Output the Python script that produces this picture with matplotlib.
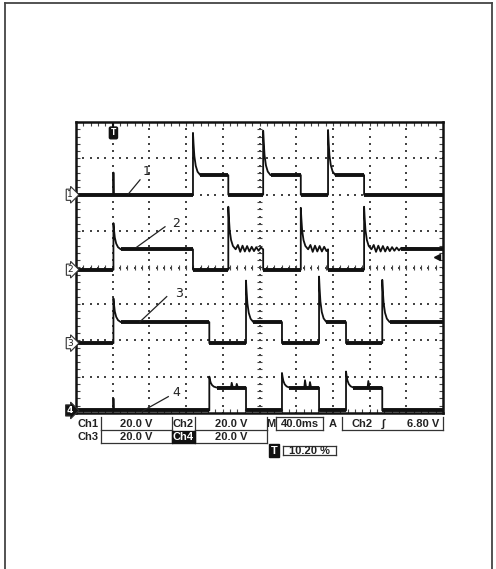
import numpy as np
import matplotlib.pyplot as plt
from matplotlib.lines import Line2D
from matplotlib.collections import LineCollection
from matplotlib.transforms import blended_transform_factory

W, H = 496, 569

# --- scope settings -------------------------------------------------------
ms_per_div = 40.0
n_xdiv, n_ydiv = 10, 8
t_end = ms_per_div * n_xdiv
trigger_pct = 10.20
t_trig = trigger_pct / 100.0 * t_end
volts_per_div = [20.0, 20.0, 20.0, 20.0]
trig_source = "Ch2"
trig_level_v = 6.80

# ground / high level of each channel, in divisions
ch_ground = [2.00, -0.06, -2.08, -3.93]
ch_high = [2.54, 0.50, -1.50, -3.30]

# edge times (ms), first edge of every list is a rising one
ch1_edges = [127.5, 166.0, 204.0, 245.0, 274.7, 314.0]
ch2_edges = [t_trig, 127.5, 166.0, 204.0, 245.0, 274.7, 314.0]
ch3_edges = [t_trig, 145.3, 185.3, 224.5, 264.9, 294.3, 333.8]
ch4_edges = [145.3, 185.3, 224.5, 264.9, 294.3, 333.8]

# overshoot peak on each rising edge (div)
ch1_peaks = [3.70, 3.76, 3.78]
ch2_peaks = [1.22, 1.67, 1.64, 1.67]
ch3_peaks = [-0.85, -0.36, -0.25, -0.34]
ch4_peaks = [-3.00, -2.90, -2.86]

# overshoot decay after an edge: time after edge (ms) / remaining fraction
decay_dt = [0.0, 0.6, 1.5, 3.0, 5.0, 8.0]
decay_frac = [1.0, 0.75, 0.45, 0.22, 0.08, 0.0]

# ringing on ch2 after its later rising edges (div offsets, 2.5 ms apart)
ch2_ring_on = [False, True, True, True]
ch2_ring = [0.12, -0.07, 0.10, -0.06, 0.09, -0.06, 0.07, -0.05, 0.06, -0.04,
            0.05, -0.03, 0.04]
ring_step = 2.5

# short glitches at the trigger instant (ms, div)
ch1_glitch = [(t_trig, 2.61)]
ch4_glitch = [(t_trig, -3.60)]

# bumps on the ch4 high level (ms, div)
ch4_bumps = [(169.7, -3.17), (175.2, -3.20), (249.6, -3.10), (255.0, -3.15),
             (318.6, -3.12)]


def build_trace(low, high, edges, peaks, ring_on=None, ring=None):
    xs, ys = [0.0], [low]
    plateaus = []
    seg_start, level, k = 0.0, low, 0
    for i, t in enumerate(edges):
        nxt = edges[i + 1] if i + 1 < len(edges) else t_end
        plateaus.append((seg_start, t, level))
        xs.append(t)
        ys.append(level)
        if i % 2 == 0:
            pk = peaks[k]
            for dt, f in zip(decay_dt, decay_frac):
                xs.append(t + dt)
                ys.append(high + f * (pk - high))
            seg_start = t + decay_dt[-1]
            if ring_on is not None and ring_on[k]:
                for j, r in enumerate(ring):
                    tr = seg_start + ring_step * (j + 1)
                    if tr > nxt - 1.0:
                        break
                    xs.append(tr)
                    ys.append(high + r)
                seg_start = min(seg_start + ring_step * len(ring), nxt)
            level = high
            k += 1
        else:
            xs.append(t)
            ys.append(low)
            seg_start, level = t, low
    xs.append(t_end)
    ys.append(level)
    plateaus.append((seg_start, t_end, level))
    return xs, ys, plateaus


def add_points(xs, ys, extra, base, w0=0.8, w1=1.2):
    for t, v in extra:
        xs += [t - w0, t, t + w1]
        ys += [base, v, base]
    order = np.argsort(np.array(xs), kind="stable")
    return list(np.array(xs)[order]), list(np.array(ys)[order])


traces = [
    build_trace(ch_ground[0], ch_high[0], ch1_edges, ch1_peaks),
    build_trace(ch_ground[1], ch_high[1], ch2_edges, ch2_peaks, ch2_ring_on, ch2_ring),
    build_trace(ch_ground[2], ch_high[2], ch3_edges, ch3_peaks),
    build_trace(ch_ground[3], ch_high[3], ch4_edges, ch4_peaks),
]

fig = plt.figure(figsize=(W / 100, H / 100), dpi=100)
ax = fig.add_axes([76 / W, 1 - 413 / H, 367 / W, 291 / H])
ax.set_xlim(0, t_end)
ax.set_ylim(-n_ydiv / 2, n_ydiv / 2)
ax.set_xticks([])
ax.set_yticks([])
for s in ax.spines.values():
    s.set_linewidth(1.8)
    s.set_color("#111111")

# graticule: dotted major lines, ticked centre lines, ticked border
minor_x = np.arange(0, t_end + 0.1, ms_per_div / 5)
minor_y = np.arange(-4, 4.01, 0.2)
for xv in np.arange(ms_per_div, t_end, ms_per_div):
    ax.scatter(np.full_like(minor_y, xv), minor_y, s=2.2, color="#444444",
               marker="s", linewidths=0, zorder=1)
for yv in np.arange(-3, 4):
    ax.scatter(minor_x, np.full_like(minor_x, yv), s=2.2, color="#444444",
               marker="s", linewidths=0, zorder=1)
ticks = []
for yv in minor_y:
    ticks.append([(t_end / 2 - 3, yv), (t_end / 2 + 3, yv)])
    ticks.append([(0, yv), (4, yv)])
    ticks.append([(t_end - 4, yv), (t_end, yv)])
for xv in minor_x:
    ticks.append([(xv, -0.08), (xv, 0.08)])
    ticks.append([(xv, 4), (xv, 3.9)])
    ticks.append([(xv, -4), (xv, -3.9)])
ax.add_collection(LineCollection(ticks, colors="#444444", linewidths=0.8, zorder=1))

# the four traces
for n, (xs, ys, plateaus) in enumerate(traces):
    if n == 0:
        xs, ys = add_points(xs, ys, ch1_glitch, ch_ground[0], 0.2, 0.4)
    if n == 3:
        xs, ys = add_points(xs, ys, ch4_glitch, ch_ground[3], 0.2, 0.4)
        xs, ys = add_points(xs, ys, ch4_bumps, ch_high[3])
    ax.plot(xs, ys, color="#111111", lw=1.3, zorder=3, clip_on=False)
    for a, b, lv in plateaus:
        ax.plot([a, b], [lv, lv], color="#111111", lw=2.8, zorder=3,
                solid_capstyle="butt")

# channel ground markers on the left
btrans = blended_transform_factory(ax.transAxes, ax.transData)
for n, g in enumerate(ch_ground):
    last = n == 3
    ax.text(-0.008, g, str(n + 1), transform=btrans, ha="right", va="center",
            fontsize=6.5, color="white" if last else "#222222",
            fontweight="bold" if last else "normal",
            bbox=dict(boxstyle="rarrow,pad=0.12", fc="#111111" if last else "white",
                      ec="#333333", lw=0.8), clip_on=False)

# trigger level marker (right edge) and trigger position marker (top)
trig_div = ch_ground[1] + trig_level_v / volts_per_div[1]
ax.plot(t_end * 0.985, trig_div, marker="<", ms=4, color="#111111", zorder=4)
ax.plot([t_trig, t_trig], [4, 3.85], color="#111111", lw=1.5, zorder=4)
ax.text(t_trig, 3.7, "T", ha="center", va="center", color="white", fontsize=5.5,
        fontweight="bold", zorder=5,
        bbox=dict(boxstyle="round,pad=0.18", fc="#111111", ec="#111111"))

# channel number callouts
callouts = [("1", (57.0, 2.02), (69.8, 2.41), (73.0, 2.63)),
            ("2", (66.2, 0.56), (97.0, 1.12), (104.3, 1.20)),
            ("3", (69.8, -1.49), (98.9, -0.80), (107.9, -0.71)),
            ("4", (71.6, -3.96), (100.6, -3.55), (105.4, -3.45))]
for lab, p0, p1, pt in callouts:
    ax.plot([p0[0], p1[0]], [p0[1], p1[1]], color="#222222", lw=0.9, zorder=4)
    ax.text(pt[0], pt[1], lab, ha="left", va="center", fontsize=9,
            color="#222222", zorder=4)

# --- readout below the screen --------------------------------------------
font = ["Liberation Sans", "DejaVu Sans"]


def ftext(x, y, s, ha="center", color="#222222", bg=None):
    kw = {}
    if bg is not None:
        kw["bbox"] = dict(boxstyle="square,pad=0.12", fc=bg, ec=bg)
    fig.text(x / W, 1 - y / H, s, ha=ha, va="center", fontsize=8,
             fontweight="bold", family=font, color=color, **kw)


def fline(x0, y0, x1, y1):
    fig.add_artist(Line2D([x0 / W, x1 / W], [1 - y0 / H, 1 - y1 / H],
                          transform=fig.transFigure, lw=0.9, color="#333333"))


def ubox(x0, x1, y0, y1, top=False):
    fline(x0, y0, x0, y1)
    fline(x1, y0, x1, y1)
    fline(x0, y1, x1, y1)
    if top:
        fline(x0, y0, x1, y0)


r1, r2, r3 = 424.0, 437.0, 450.5
ftext(87.5, r1, "Ch1")
ubox(100.7, 171.7, 417, 430)
ftext(136, r1, f"{volts_per_div[0]:.1f} V")
ftext(183.5, r1, "Ch2")
ubox(195, 266.7, 417, 430)
ftext(231, r1, f"{volts_per_div[1]:.1f} V")
ftext(270.5, r1, "M")
ubox(276, 322.7, 417, 430, top=True)
ftext(299.5, r1, f"{ms_per_div:.1f}ms")
ftext(333, r1, "A")
ubox(341.7, 443.3, 417, 430)
ftext(362, r1, trig_source)
ftext(383, r1, "\u222b")
ftext(439, r1, f"{trig_level_v:.2f} V", ha="right")

ftext(87.5, r2, "Ch3")
ubox(100.7, 171.7, 430, 443)
ftext(136, r2, f"{volts_per_div[2]:.1f} V")
ftext(183.5, r2, "Ch4", color="white", bg="#111111")
ubox(195, 266.7, 430, 443)
ftext(231, r2, f"{volts_per_div[3]:.1f} V")

ftext(274, r3, "T", color="white", bg="#111111")
ubox(282.7, 336, 446, 455, top=True)
ftext(309, r3, f"{trigger_pct:.2f} %")

# page frame
for x0, y0, x1, y1 in [(5, 3, 5, H), (5, 3, 492, 3), (492, 3, 492, H)]:
    fig.add_artist(Line2D([x0 / W, x1 / W], [1 - y0 / H, 1 - y1 / H],
                          transform=fig.transFigure, lw=1.3, color="#444444"))

fig.savefig("out.png", dpi=100)
